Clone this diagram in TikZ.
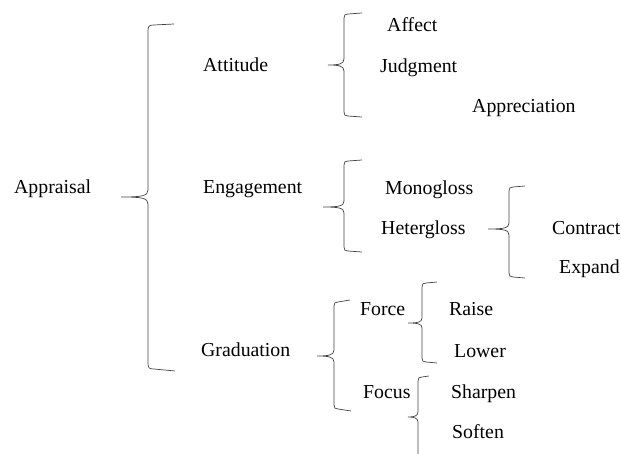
\documentclass[tikz,border=0pt]{standalone}
\usepackage{fontspec}
\setmainfont{Liberation Serif}
\newfontfamily\termfont{Liberation Serif}
\usepackage{tikz}

\begin{document}
\begin{tikzpicture}[x=1pt, y=-1pt,
		term/.style={anchor=base west, inner sep=0pt, font=\termfont\fontsize{19.8}{24}\selectfont},
		curly/.style={draw=black!75, line width=0.7pt}]
		\useasboundingbox (0, 0) rectangle (621, 454);

		\node[term] (appraisal) at (14, 194) {Appraisal};
		\node[term] (attitude) at (203, 72) {Attitude};
		\node[term] (engagement) at (203, 194) {Engagement};
		\node[term] (graduation) at (201, 356) {Graduation};
		\node[term] (affect) at (387, 32) {Affect};
		\node[term] (judgment) at (380, 73) {Judgment};
		\node[term] (appreciation) at (472, 113) {Appreciation};
		\node[term] (monogloss) at (385, 195) {Monogloss};
		\node[term] (hetergloss) at (381, 235) {Hetergloss};
		\node[term] (contract) at (552, 235) {Contract};
		\node[term] (expand) at (559, 274) {Expand};
		\node[term] (force) at (360, 316) {Force};
		\node[term] (focus) at (363, 398) {Focus};
		\node[term] (raise) at (449, 316) {Raise};
		\node[term] (lower) at (454, 357) {Lower};
		\node[term] (sharpen) at (451, 398) {Sharpen};
		\node[term] (soften) at (452, 438) {Soften};

		% braces
		\draw[curly] (174, 24) -- (154, 25) .. controls (149, 25) and (148, 26) .. (148, 31) -- (148, 190) .. controls (148, 196) and (142, 197) .. (121, 197) .. controls (142, 197) and (148, 198) .. (148, 204) -- (148, 363) .. controls (148, 368) and (149, 369) .. (154, 369) -- (175, 371);
		\draw[curly] (362, 13) -- (348, 14) .. controls (345, 14) and (344, 15) .. (344, 18) -- (344, 59) .. controls (344, 64) and (339, 65) .. (328, 65) .. controls (339, 65) and (344, 66) .. (344, 71) -- (344, 112) .. controls (344, 115) and (345, 116) .. (348, 116) -- (362, 117);
		\draw[curly] (362, 160) -- (348, 161) .. controls (345, 161) and (344, 162) .. (344, 165) -- (344, 201) .. controls (344, 206) and (339, 207) .. (323, 207) .. controls (339, 207) and (344, 208) .. (344, 213) -- (344, 247) .. controls (344, 250) and (345, 251) .. (348, 251) -- (362, 252);
		\draw[curly] (525, 186) -- (513, 187) .. controls (510, 187) and (509, 188) .. (509, 191) -- (509, 223) .. controls (509, 228) and (504, 229) .. (488, 229) .. controls (504, 229) and (509, 230) .. (509, 235) -- (509, 273) .. controls (509, 276) and (510, 277) .. (513, 277) -- (525, 278);
		\draw[curly] (350, 300) -- (338, 302) .. controls (335, 302) and (334, 303) .. (334, 306) -- (334, 350) .. controls (334, 355) and (329, 356) .. (317, 356) .. controls (329, 356) and (334, 357) .. (334, 362) -- (334, 405) .. controls (334, 408) and (335, 409) .. (338, 409) -- (351, 411);
		\draw[curly] (437, 282) -- (426, 283) .. controls (423, 283) and (422, 284) .. (422, 287) -- (422, 318) .. controls (422, 322) and (418, 323) .. (408, 323) .. controls (418, 323) and (422, 324) .. (422, 328) -- (422, 358) .. controls (422, 361) and (423, 362) .. (426, 362) -- (437, 363);
		\draw[curly] (429, 376) -- (422, 377) .. controls (419, 377) and (418, 378) .. (418, 381) -- (418, 412) .. controls (418, 416) and (414, 417) .. (408, 417) .. controls (414, 417) and (418, 418) .. (418, 422) -- (418, 454);
	\end{tikzpicture}
\end{document}
